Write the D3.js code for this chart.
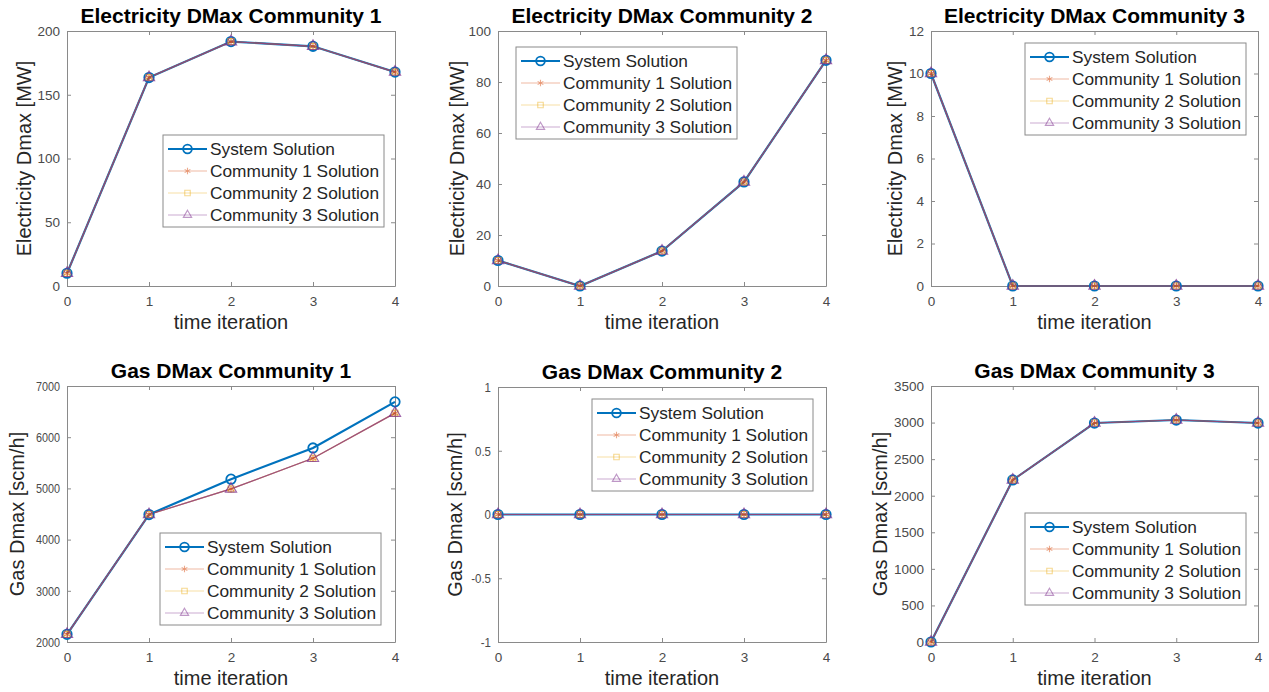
<!DOCTYPE html>
<html>
<head>
<meta charset="utf-8">
<script src="https://cdn.jsdelivr.net/npm/d3@7"></script>
<style>
  body { margin: 0; background: #fff; }
  svg { font-family: "Liberation Sans", Arial, sans-serif; }
</style>
</head>
<body>
<div id="chart"></div>
<script>
// ---- data ----
const iterations = [0, 1, 2, 3, 4];
const seriesNames = ["System Solution", "Community 1 Solution", "Community 2 Solution", "Community 3 Solution"];

const elecC1System = [10, 163.5, 191.7, 188, 167.8];
const elecC1Comm   = [10, 163.5, 191.7, 188, 167.8];
const elecC2System = [10, 0, 13.7, 40.8, 88.5];
const elecC2Comm   = [10, 0, 13.7, 40.8, 88.5];
const elecC3System = [10, 0, 0, 0, 0];
const elecC3Comm   = [10, 0, 0, 0, 0];
const gasC1System  = [2150, 4490, 5180, 5790, 6690];
const gasC1Comm    = [2150, 4490, 4990, 5590, 6470];
const gasC2System  = [0, 0, 0, 0, 0];
const gasC2Comm    = [0, 0, 0, 0, 0];
const gasC3System  = [0, 2215, 2994, 3035, 2994];
const gasC3Comm    = [0, 2215, 2994, 3035, 2994];

const elecC1Ticks = [0, 50, 100, 150, 200];
const elecC2Ticks = [0, 20, 40, 60, 80, 100];
const elecC3Ticks = [0, 2, 4, 6, 8, 10, 12];
const gasC1Ticks  = [2000, 3000, 4000, 5000, 6000, 7000];
const gasC2Ticks  = [-1, -0.5, 0, 0.5, 1];
const gasC3Ticks  = [0, 500, 1000, 1500, 2000, 2500, 3000, 3500];

// ---- layout ----
const W = 1269, H = 692;
const colors = ["#0072BD", "#D95319", "#EDB120", "#7E2F8E"];
const symbols = [d3.symbolCircle, d3.symbolAsterisk, d3.symbolSquare, d3.symbolTriangle];

const panels = [
  { title: "Electricity DMax Community 1", ylabel: "Electricity Dmax [MW]", sys: elecC1System, comm: elecC1Comm,
    ticks: elecC1Ticks, box: [67, 31, 395, 286], ylabX: 24, legend: [163, 135], squash: 1 },
  { title: "Electricity DMax Community 2", ylabel: "Electricity Dmax [MW]", sys: elecC2System, comm: elecC2Comm,
    ticks: elecC2Ticks, box: [498, 31, 826, 286], ylabX: 457, legend: [516, 47], squash: 1 },
  { title: "Electricity DMax Community 3", ylabel: "Electricity Dmax [MW]", sys: elecC3System, comm: elecC3Comm,
    ticks: elecC3Ticks, box: [931, 31, 1258, 286], ylabX: 895, legend: [1025, 43], squash: 1 },
  { title: "Gas DMax Community 1", ylabel: "Gas Dmax [scm/h]", sys: gasC1System, comm: gasC1Comm,
    ticks: gasC1Ticks, box: [67, 386, 395, 642], ylabX: 17, legend: [160, 533], squash: 0.8 },
  { title: "Gas DMax Community 2", ylabel: "Gas Dmax [scm/h]", sys: gasC2System, comm: gasC2Comm,
    ticks: gasC2Ticks, box: [498, 387, 826, 642], ylabX: 455, legend: [592, 399], squash: 0.85 },
  { title: "Gas DMax Community 3", ylabel: "Gas Dmax [scm/h]", sys: gasC3System, comm: gasC3Comm,
    ticks: gasC3Ticks, box: [931, 386, 1258, 642], ylabX: 880, legend: [1025, 513], squash: 1 }
];

const svg = d3.select("#chart").append("svg")
  .attr("width", W)
  .attr("height", H);

const fmt = d => String(d);

function drawMarker(g, i, x, y, size, op) {
  g.append("path")
    .attr("d", d3.symbol().type(symbols[i]).size(size)())
    .attr("transform", `translate(${x},${y})`)
    .attr("fill", "none")
    .attr("stroke", colors[i])
    .attr("stroke-width", i === 0 ? 1.8 : 1.1)
    .attr("stroke-opacity", i === 0 ? 1 : op);
}

panels.forEach(p => {
  const [x0, y0, x1, y1] = p.box;
  const x = d3.scaleLinear().domain([0, 4]).range([x0, x1]);
  const y = d3.scaleLinear().domain([p.ticks[0], p.ticks[p.ticks.length - 1]]).range([y1, y0]);
  const g = svg.append("g");

  // axes (box with inward ticks on all sides)
  const tl = 4;
  g.append("g").attr("transform", `translate(0,${y1})`)
    .call(d3.axisBottom(x).tickValues(iterations).tickSizeInner(-tl).tickSizeOuter(0).tickPadding(10).tickFormat(fmt))
    .selectAll(".tick text").attr("fill", "#4a4a4a").style("font-size", "13.5px");
  g.append("g").attr("transform", `translate(0,${y0})`)
    .call(d3.axisTop(x).tickValues(iterations).tickSizeInner(-tl).tickSizeOuter(0).tickFormat(""));
  const yAxis = g.append("g").attr("transform", `translate(${x0},0)`)
    .call(d3.axisLeft(y).tickValues(p.ticks).tickSizeInner(-tl).tickSizeOuter(0).tickPadding(7).tickFormat(fmt));
  yAxis.selectAll(".tick text").attr("fill", "#4a4a4a").style("font-size", "13.5px")
    .each(function () {
      if (p.squash < 1) {
        const w = this.getComputedTextLength();
        d3.select(this).attr("textLength", w * p.squash).attr("lengthAdjust", "spacingAndGlyphs");
      }
    });
  g.append("g").attr("transform", `translate(${x1},0)`)
    .call(d3.axisRight(y).tickValues(p.ticks).tickSizeInner(-tl).tickSizeOuter(0).tickFormat(""));
  g.selectAll(".domain, .tick line").attr("stroke", "#8a8a8a").attr("stroke-width", 1);

  // lines
  const line = d3.line().x((d, i) => x(iterations[i])).y(d => y(d));
  g.append("path").datum(p.sys)
    .attr("d", line).attr("fill", "none")
    .attr("stroke", colors[0]).attr("stroke-width", 2.2);
  [1, 2, 3].forEach(k => {
    g.append("path").datum(p.comm)
      .attr("d", line).attr("fill", "none")
      .attr("stroke", colors[k]).attr("stroke-width", 1.2)
      .attr("stroke-opacity", k === 3 ? 0.75 : 0.5);
  });
  p.sys.forEach((v, i) => drawMarker(g, 0, x(iterations[i]), y(v), 70, 1));
  [1, 2, 3].forEach(k => {
    p.comm.forEach((v, i) => drawMarker(g, k, x(iterations[i]), y(v), k === 3 ? 55 : 35, 0.75));
  });

  // title and labels
  g.append("text")
    .attr("x", (x0 + x1) / 2).attr("y", y0 - 8)
    .attr("text-anchor", "middle")
    .style("font-size", "21px").style("font-weight", "bold")
    .attr("fill", "#000")
    .text(p.title);
  g.append("text")
    .attr("x", (x0 + x1) / 2).attr("y", y1 + 43)
    .attr("text-anchor", "middle")
    .style("font-size", "20px").attr("fill", "#262626")
    .text("time iteration");
  g.append("text")
    .attr("transform", `translate(${p.ylabX},${(y0 + y1) / 2}) rotate(-90)`)
    .attr("text-anchor", "middle").attr("dy", "0.35em")
    .style("font-size", "20px").attr("fill", "#262626")
    .text(p.ylabel);

  // legend
  const [lx, ly] = p.legend;
  const leg = g.append("g").attr("transform", `translate(${lx},${ly})`);
  leg.append("rect")
    .attr("width", 221).attr("height", 92)
    .attr("fill", "#fff").attr("stroke", "#8a8a8a").attr("stroke-width", 1);
  seriesNames.forEach((name, i) => {
    const ry = 14 + i * 22;
    leg.append("line")
      .attr("x1", 5).attr("x2", 44).attr("y1", ry).attr("y2", ry)
      .attr("stroke", colors[i])
      .attr("stroke-width", i === 0 ? 2.2 : 1.1)
      .attr("stroke-opacity", i === 0 ? 1 : 0.4);
    drawMarker(leg, i, 24.5, ry, i === 0 ? 60 : 30, 0.5);
    leg.append("text")
      .attr("x", 47).attr("y", ry).attr("dy", "0.36em")
      .style("font-size", "17.3px").attr("fill", "#262626")
      .text(name);
  });
});
</script>
</body>
</html>
